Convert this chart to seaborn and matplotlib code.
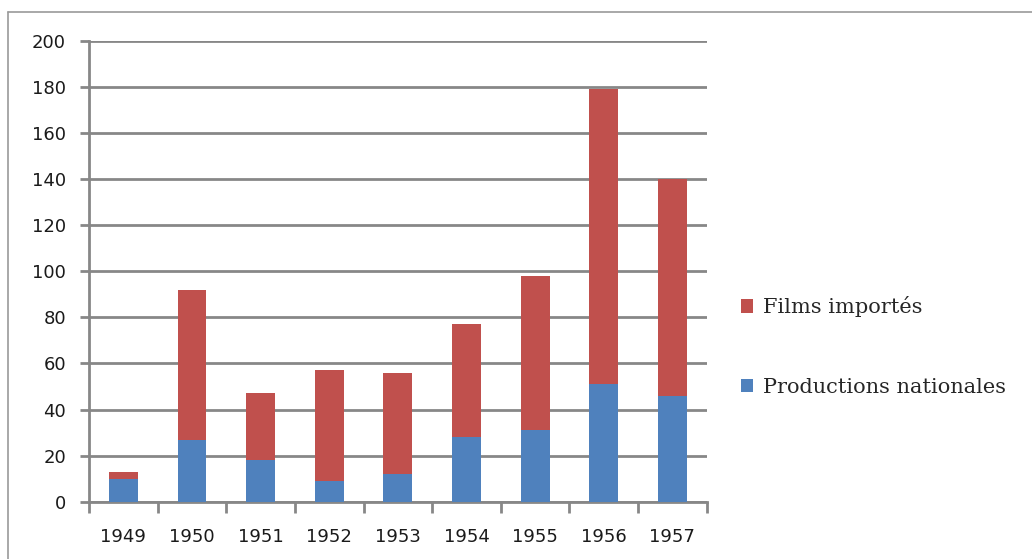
import matplotlib
matplotlib.use("Agg")
import matplotlib.pyplot as plt
from matplotlib.lines import Line2D
from matplotlib.patches import Patch
import seaborn as sns
import pandas as pd
import numpy as np

years = ["1949", "1950", "1951", "1952", "1953", "1954", "1955", "1956", "1957"]
productions_nationales = [10, 27, 18, 9, 12, 28, 31, 51, 46]
films_importes = [3, 65, 29, 48, 44, 49, 67, 128, 94]
y_ticks = [0, 20, 40, 60, 80, 100, 120, 140, 160, 180, 200]
series_labels = ["Films importés", "Productions nationales"]

RED = "#C0504D"
BLUE = "#4F81BD"
GRID = "#878787"

sns.set_theme(style="white")
plt.rcParams["font.family"] = ["DejaVu Sans"]

df = pd.DataFrame({
    "year": years,
    "nat": productions_nationales,
    "imp": films_importes,
})
df["total"] = df["nat"] + df["imp"]

fig = plt.figure(figsize=(10.32, 5.59), dpi=100)
ax = fig.add_axes([89 / 1032, 1 - 501.7 / 559, (706.7 - 89) / 1032, (501.7 - 41) / 559])

sns.barplot(data=df, x="year", y="total", color=RED, saturation=1, width=0.42, ax=ax, zorder=3)
sns.barplot(data=df, x="year", y="nat", color=BLUE, saturation=1, width=0.42, ax=ax, zorder=3)
for p in ax.patches:
    p.set_edgecolor("none")
    p.set_zorder(3)

ax.set_xlim(-0.5, len(years) - 0.5)
ax.set_ylim(0, 200)
ax.set_yticks(y_ticks)
ax.set_yticklabels([str(v) for v in y_ticks], fontsize=13, color="#1a1a1a")
ax.yaxis.grid(True, color=GRID, linewidth=2.0, zorder=1)
ax.set_axisbelow(True)
ax.set_xlabel("")
ax.set_ylabel("")

ax.set_xticks(range(len(years)))
ax.set_xticklabels(years, fontsize=13, color="#1a1a1a")
ax.set_xticks(np.arange(-0.5, len(years), 1.0), minor=True)
ax.tick_params(axis="x", which="major", length=0, pad=19)
ax.tick_params(axis="x", which="minor", length=8, width=2.0, color=GRID, direction="out", bottom=True)
ax.tick_params(axis="y", which="major", length=6.5, width=2.0, color=GRID, direction="out", left=True, pad=10)

for s in ["top", "right"]:
    ax.spines[s].set_visible(False)
for s in ["left", "bottom"]:
    ax.spines[s].set_color(GRID)
    ax.spines[s].set_linewidth(2.0)

handles = [Patch(facecolor=RED, edgecolor="none"), Patch(facecolor=BLUE, edgecolor="none")]
fig.legend(handles, series_labels, loc="center left", bbox_to_anchor=(722 / 1032, 1 - 346.5 / 559),
           frameon=False, prop={"family": "DejaVu Serif", "size": 15},
           handlelength=0.6, handleheight=0.6, handletextpad=0.45, labelspacing=2.9)

# outer chart border (top and left visible)
fig.add_artist(Line2D([8 / 1032, 1.0], [1 - 12.3 / 559, 1 - 12.3 / 559], color="#9a9a9a", linewidth=1.2, transform=fig.transFigure))
fig.add_artist(Line2D([8.3 / 1032, 8.3 / 1032], [0.0, 1 - 12.3 / 559], color="#9a9a9a", linewidth=1.2, transform=fig.transFigure))

fig.savefig("out.png", dpi=100, facecolor="white")
